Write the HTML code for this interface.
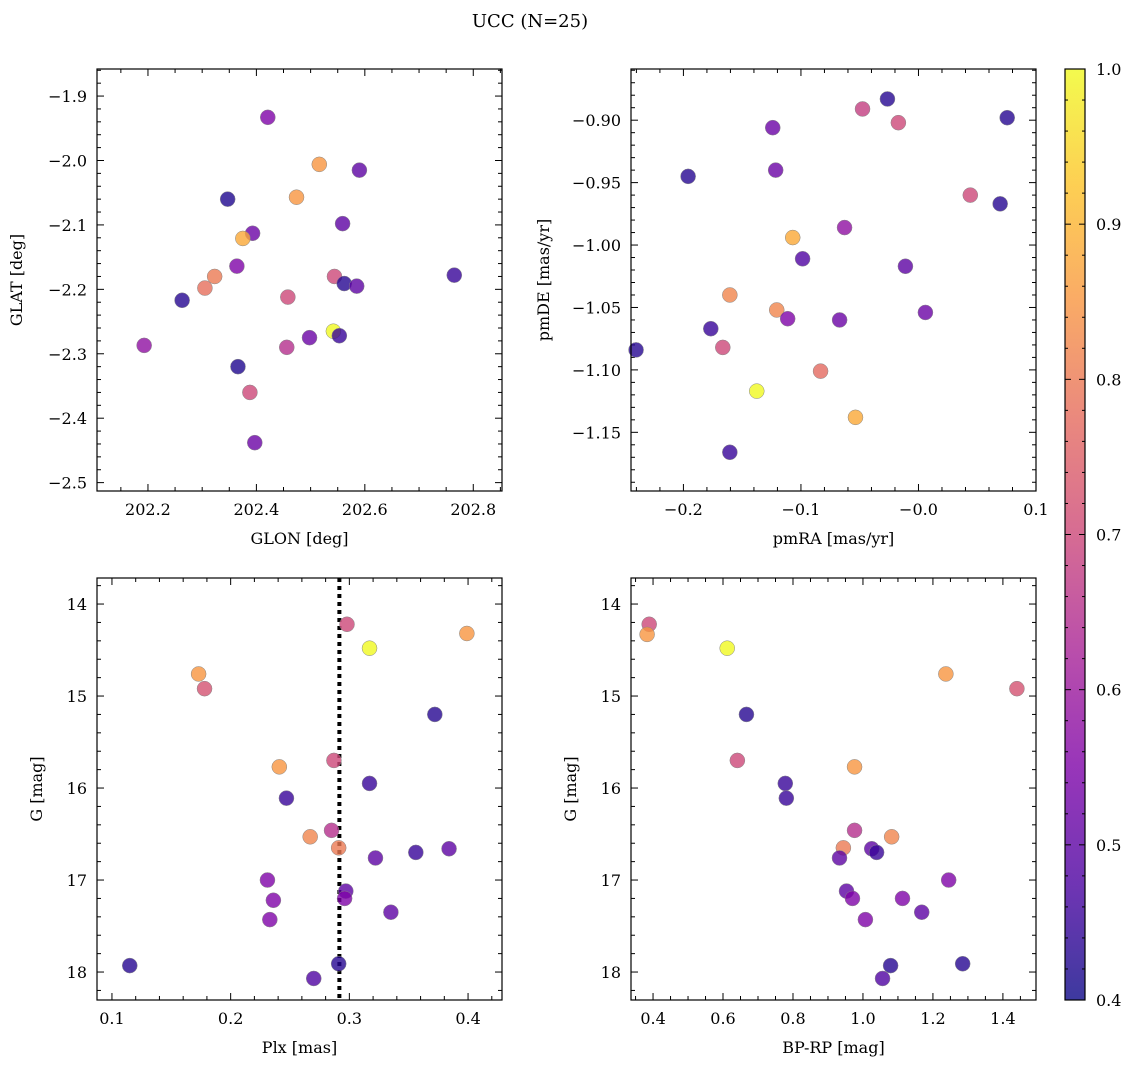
<!DOCTYPE html>
<html><head><meta charset="utf-8"><style>
body{margin:0;background:#fff;}
svg text{font-family:"DejaVu Serif","Liberation Serif",serif;fill:#000;}
</style></head><body>
<svg id="fig" width="1136" height="1068" xmlns="http://www.w3.org/2000/svg">
<rect width="1136" height="1068" fill="#fff"/>
<text x="530" y="27" font-size="18" text-anchor="middle">UCC (N=25)</text>
<defs><linearGradient id="cbg" x1="0" y1="1" x2="0" y2="0">
<stop offset="0" stop-color="#0d0887"/><stop offset="0.125" stop-color="#4c02a1"/><stop offset="0.25" stop-color="#7e03a8"/><stop offset="0.375" stop-color="#a82296"/><stop offset="0.5" stop-color="#cc4778"/><stop offset="0.625" stop-color="#e56b5d"/><stop offset="0.75" stop-color="#f89540"/><stop offset="0.875" stop-color="#fdc328"/><stop offset="1" stop-color="#f0f921"/>
</linearGradient></defs>
</svg>
<script>
// Panel 1: GLON vs GLAT
const glon=[202.421,202.516,202.590,202.347,202.474,202.559,202.393,202.375,202.364,202.323,202.544,202.765,202.562,202.585,202.305,202.263,202.458,202.542,202.553,202.498,202.193,202.456,202.366,202.388,202.397];
const glat=[-1.933,-2.006,-2.015,-2.060,-2.057,-2.098,-2.113,-2.121,-2.164,-2.180,-2.180,-2.178,-2.191,-2.195,-2.198,-2.217,-2.212,-2.265,-2.272,-2.275,-2.287,-2.290,-2.320,-2.360,-2.438];
const prob1=[0.55,0.85,0.5,0.42,0.85,0.5,0.52,0.88,0.55,0.8,0.7,0.45,0.43,0.5,0.78,0.43,0.7,1.0,0.45,0.52,0.58,0.65,0.42,0.7,0.52];
// Panel 2: pmRA vs pmDE
const pmra=[-0.0264,-0.0476,-0.124,-0.0171,0.0755,-0.196,-0.1215,0.0441,0.0695,-0.107,-0.0629,-0.0986,-0.0111,-0.1605,-0.1206,-0.1113,-0.0671,0.0059,-0.1767,-0.1665,-0.2403,-0.0833,-0.1376,-0.0536,-0.1605];
const pmde=[-0.883,-0.891,-0.906,-0.902,-0.898,-0.945,-0.940,-0.960,-0.967,-0.994,-0.986,-1.011,-1.017,-1.040,-1.052,-1.059,-1.060,-1.054,-1.067,-1.082,-1.084,-1.101,-1.117,-1.138,-1.166];
const prob2=[0.43,0.68,0.52,0.7,0.43,0.43,0.52,0.7,0.43,0.88,0.58,0.48,0.5,0.82,0.82,0.55,0.52,0.52,0.45,0.7,0.43,0.77,1.0,0.88,0.45];
// Panel 3: Plx vs G
const plx=[0.298,0.399,0.317,0.173,0.178,0.372,0.287,0.241,0.317,0.247,0.285,0.267,0.291,0.384,0.356,0.322,0.231,0.297,0.296,0.236,0.335,0.233,0.115,0.291,0.270];
const gmag3=[14.22,14.32,14.48,14.76,14.92,15.20,15.70,15.77,15.95,16.11,16.46,16.53,16.65,16.66,16.70,16.76,17.00,17.12,17.20,17.22,17.35,17.43,17.93,17.91,18.07];
const prob3=[0.7,0.85,1.0,0.85,0.72,0.43,0.7,0.85,0.45,0.45,0.65,0.82,0.8,0.5,0.45,0.5,0.55,0.5,0.55,0.55,0.5,0.55,0.43,0.43,0.48];
const plxMedian=0.2916;
// Panel 4: BP-RP vs G
const bprp=[0.389,0.383,0.612,1.237,1.440,0.667,0.641,0.976,0.778,0.781,0.976,1.082,0.944,1.025,1.039,0.933,1.245,0.953,1.113,0.970,1.168,1.007,1.079,1.285,1.056];
const gmag4=[14.22,14.33,14.48,14.76,14.92,15.20,15.70,15.77,15.95,16.11,16.46,16.53,16.65,16.66,16.70,16.76,17.00,17.12,17.20,17.20,17.35,17.43,17.93,17.91,18.07];
const prob4=[0.7,0.85,1.0,0.85,0.72,0.43,0.7,0.85,0.45,0.45,0.65,0.82,0.8,0.5,0.45,0.5,0.55,0.5,0.55,0.55,0.5,0.55,0.43,0.43,0.48];
const cbTicks=[0.4,0.5,0.6,0.7,0.8,0.9,1.0];

const NS="http://www.w3.org/2000/svg";
const svg=document.getElementById('fig');
function mk(tag,attrs,parent){const e=document.createElementNS(NS,tag);for(const k in attrs)e.setAttribute(k,attrs[k]);(parent||svg).appendChild(e);return e;}
const stops=[[0,[13,8,135]],[0.125,[76,2,161]],[0.25,[126,3,168]],[0.375,[168,34,150]],[0.5,[204,71,120]],[0.625,[229,107,93]],[0.75,[248,149,64]],[0.875,[253,195,40]],[1,[240,249,33]]];
function plasma(t){t=Math.max(0,Math.min(1,t));for(let i=1;i<stops.length;i++){if(t<=stops[i][0]){const a=stops[i-1],b=stops[i];const f=(t-a[0])/(b[0]-a[0]);const c=a[1].map((v,j)=>Math.round(v+(b[1][j]-v)*f));return `rgb(${c})`;}}return 'rgb(240,249,33)';}

function panel(o){
  const g=mk('g',{});
  
  
  const X=v=>o.x0+(v-o.xmin)/(o.xmax-o.xmin)*(o.x1-o.x0);
  const Y=o.inv?(v=>o.y0+(v-o.ymin)/(o.ymax-o.ymin)*(o.y1-o.y0)):(v=>o.y1-(v-o.ymin)/(o.ymax-o.ymin)*(o.y1-o.y0));
  const eps=1e-9;
  for(let v=Math.ceil(o.xmin/o.xminor-eps)*o.xminor;v<=o.xmax+eps;v+=o.xminor){
    const px=X(v);const maj=Math.abs(v/o.xmajor-Math.round(v/o.xmajor))<1e-6;const L=maj?7:4;
    mk('line',{x1:px,x2:px,y1:o.y1,y2:o.y1-L,stroke:'#000','stroke-width':1},g);
    mk('line',{x1:px,x2:px,y1:o.y0,y2:o.y0+L,stroke:'#000','stroke-width':1},g);
    if(maj){const t=mk('text',{x:px,y:o.y1+24,'font-size':16,'text-anchor':'middle'},g);t.textContent=o.fx(v);
      
      }
  }
  for(let v=Math.ceil(o.ymin/o.yminor-eps)*o.yminor;v<=o.ymax+eps;v+=o.yminor){
    const py=Y(v);const maj=Math.abs(v/o.ymajor-Math.round(v/o.ymajor))<1e-6;const L=maj?7:4;
    mk('line',{x1:o.x0,x2:o.x0+L,y1:py,y2:py,stroke:'#000','stroke-width':1},g);
    mk('line',{x1:o.x1,x2:o.x1-L,y1:py,y2:py,stroke:'#000','stroke-width':1},g);
    if(maj){const t=mk('text',{x:o.x0-10,y:py+6,'font-size':16,'text-anchor':'end'},g);t.textContent=o.fy(v);
      
      }
  }
  if(o.vline!==undefined){const l=mk('line',{x1:X(o.vline),x2:X(o.vline),y1:o.y0,y2:o.y1,stroke:'#000','stroke-width':4,'stroke-dasharray':'4,4'},g);
    
    }
  o.xs.forEach((xv,i)=>{
    const c=mk('circle',{cx:X(xv),cy:Y(o.ys[i]),r:7.5,fill:plasma((o.cs[i]-0.4)/0.6),'fill-opacity':0.8,stroke:'#888','stroke-width':0.5},g);
    
    
  });
  mk('rect',{x:o.x0,y:o.y0,width:o.x1-o.x0,height:o.y1-o.y0,fill:'none',stroke:'#000','stroke-width':1.2},g);
  const xl=mk('text',{x:(o.x0+o.x1)/2,y:o.y1+53,'font-size':16,'text-anchor':'middle'},g);xl.textContent=o.xlabel;
  
  
  const cx=o.x0-o.ylabOff,cy=(o.y0+o.y1)/2;
  const yl=mk('text',{x:cx,y:cy,'font-size':16,'text-anchor':'middle',transform:`rotate(-90 ${cx} ${cy})`},g);yl.textContent=o.ylabel;
  
  
}
const f1=v=>v.toFixed(1).replace('-','\u2212'), f2=v=>v.toFixed(2).replace('-','\u2212');
panel({name:'panel-glon-glat',x0:97,x1:502,y0:69,y1:491,xmin:202.106,xmax:202.853,ymin:-2.513,ymax:-1.858,xmajor:0.2,xminor:0.05,ymajor:0.1,yminor:0.02,fx:f1,fy:f1,xs:glon,ys:glat,cs:prob1,xlabel:'GLON [deg]',ylabel:'GLAT [deg]',ylabOff:75});
panel({name:'panel-pm',x0:631,x1:1036,y0:69,y1:491,xmin:-0.2446,xmax:0.1,ymin:-1.197,ymax:-0.859,xmajor:0.1,xminor:0.02,ymajor:0.05,yminor:0.01,fx:f1,fy:f2,xs:pmra,ys:pmde,cs:prob2,xlabel:'pmRA [mas/yr]',ylabel:'pmDE [mas/yr]',ylabOff:82});
panel({name:'panel-plx-g',x0:97,x1:502,y0:578,y1:1000,xmin:0.0874,xmax:0.4286,ymin:13.717,ymax:18.304,inv:true,xmajor:0.1,xminor:0.02,ymajor:1,yminor:0.2,fx:f1,fy:v=>v.toFixed(0),xs:plx,ys:gmag3,cs:prob3,vline:plxMedian,xlabel:'Plx [mas]',ylabel:'G [mag]',ylabOff:55});
panel({name:'panel-cmd',x0:631,x1:1036,y0:578,y1:1000,xmin:0.337,xmax:1.4946,ymin:13.717,ymax:18.304,inv:true,xmajor:0.2,xminor:0.05,ymajor:1,yminor:0.2,fx:f1,fy:v=>v.toFixed(0),xs:bprp,ys:gmag4,cs:prob4,xlabel:'BP-RP [mag]',ylabel:'G [mag]',ylabOff:55});

const cb=mk('g',{});


mk('rect',{x:1065,y:69,width:20,height:931,fill:'url(#cbg)','fill-opacity':0.8},cb);
mk('rect',{x:1065,y:69,width:20,height:931,fill:'none',stroke:'#000','stroke-width':1.2},cb);
const CY=v=>1000-(v-0.4)/0.6*931;
for(let k=0;k<=30;k++){const v=0.4+k*0.02;const maj=k%5===0;const L=maj?6:3;
  mk('line',{x1:1085,x2:1085-L,y1:CY(v),y2:CY(v),stroke:'#000','stroke-width':1},cb);
  mk('line',{x1:1065,x2:1065+L,y1:CY(v),y2:CY(v),stroke:'#000','stroke-width':1},cb);}
cbTicks.forEach(v=>{const t=mk('text',{x:1096,y:CY(v)+6,'font-size':16},cb);t.textContent=v.toFixed(1);
  
  });
</script>
</body></html>
